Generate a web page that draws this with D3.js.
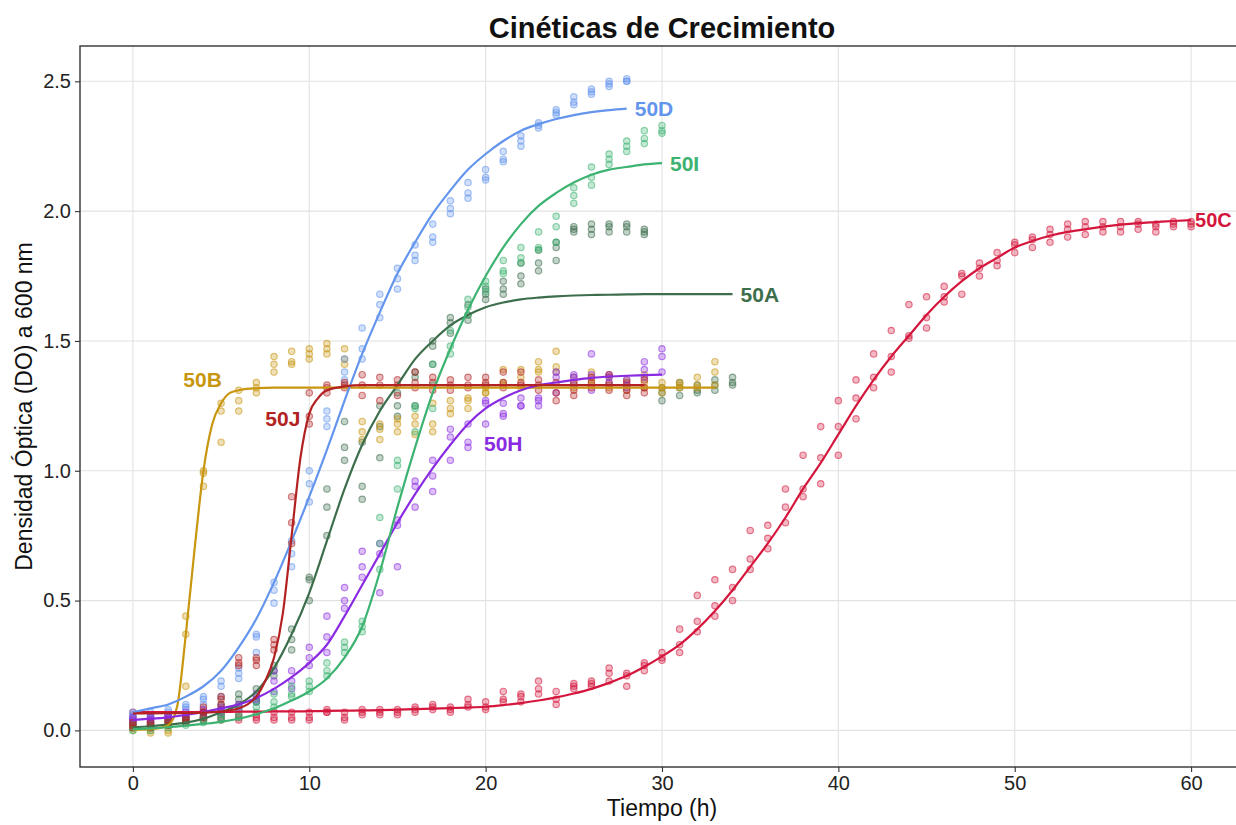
<!DOCTYPE html>
<html>
<head>
<meta charset="utf-8">
<script src="https://d3js.org/d3.v7.min.js"></script>
<style>
  body { margin: 0; background: #fff; }
  svg { display: block; font-family: "Liberation Sans", Arial, sans-serif; }
</style>
</head>
<body>
<svg id="chart" width="1236" height="825"></svg>
<script>
// strains in drawing order, with their colours
var strains = ["50A", "50B", "50C", "50D", "50H", "50I", "50J"];
var colors = ["#3d6e4c", "#c8960f", "#d4163d", "#6495ed", "#8a2be2", "#3cb371", "#b22222"];

var xTicks = [0, 10, 20, 30, 40, 50, 60];
var yTicks = [0, 0.5, 1, 1.5, 2, 2.5];

// measured OD600: [hour, rep1, rep2, rep3]
var obs50A = [
  [0,0.03,0.02,0.01],[1,0.03,0.02,0.02],[2,0.04,0.03,0.02],[3,0.05,0.04,0.03],
  [4,0.07,0.05,0.04],[5,0.10,0.08,0.06],[6,0.14,0.12,0.10],[7,0.16,0.13,0.11],
  [8,0.25,0.23,0.21],[9,0.39,0.35,0.31],[10,0.59,0.58,0.50],[11,0.93,0.86,0.75],
  [12,1.19,1.09,1.04],[13,1.11,0.94,0.89],[14,1.25,1.17,1.05],[15,1.30,1.25,1.21],
  [16,1.38,1.36,1.25],[17,1.50,1.48,1.41],[18,1.59,1.57,1.53],[19,1.64,1.60,1.58],
  [20,1.70,1.68,1.66],[21,1.73,1.70,1.68],[22,1.80,1.75,1.72],[23,1.85,1.80,1.77],
  [24,1.88,1.86,1.81],[25,1.94,1.93,1.92],[26,1.95,1.93,1.91],[27,1.95,1.94,1.92],
  [28,1.95,1.94,1.92],[29,1.93,1.92,1.91],[30,1.32,1.30,1.27],[31,1.34,1.32,1.29],
  [32,1.33,1.31,1.30],[33,1.35,1.33,1.31],[34,1.36,1.34,1.33]
];
var obs50B = [
  [0,0.02,0.01,0.00],[1,0.03,0.00,-0.01],[2,0.03,0.00,-0.01],[3,0.44,0.37,0.17],
  [4,1.00,0.99,0.94],[5,1.26,1.23,1.11],[6,1.31,1.27,1.23],[7,1.34,1.32,1.30],
  [8,1.44,1.41,1.38],[9,1.46,1.42,1.41],[10,1.47,1.45,1.43],[11,1.49,1.47,1.45],
  [12,1.47,1.43,1.41],[13,1.19,1.15,1.12],[14,1.18,1.16,1.12],[15,1.20,1.18,1.15],
  [16,1.21,1.18,1.14],[17,1.26,1.18,1.15],[18,1.27,1.24,1.22],[19,1.28,1.27,1.24],
  [20,1.32,1.30,1.30],[21,1.39,1.34,1.33],[22,1.39,1.36,1.32],[23,1.42,1.39,1.38],
  [24,1.46,1.40,1.38],[25,1.36,1.34,1.32],[26,1.38,1.35,1.33],[27,1.36,1.34,1.32],
  [28,1.35,1.33,1.31],[29,1.37,1.34,1.32],[30,1.34,1.32,1.30],[31,1.34,1.33,1.32],
  [32,1.36,1.33,1.32],[33,1.42,1.38,1.33]
];
var obs50C = [
  [0,0.07,0.05,0.04],[1,0.06,0.05,0.04],[2,0.06,0.05,0.05],[3,0.06,0.04,0.05],
  [4,0.07,0.05,0.04],[5,0.07,0.04,0.05],[6,0.06,0.04,0.05],[7,0.06,0.04,0.05],
  [8,0.07,0.04,0.05],[9,0.07,0.04,0.05],[10,0.07,0.05,0.04],[11,0.08,0.07,0.07],
  [12,0.07,0.05,0.04],[13,0.08,0.06,0.07],[14,0.08,0.07,0.06],[15,0.07,0.06,0.08],
  [16,0.09,0.07,0.08],[17,0.10,0.08,0.09],[18,0.09,0.08,0.07],[19,0.12,0.10,0.09],
  [20,0.11,0.09,0.08],[21,0.15,0.12,0.11],[22,0.14,0.13,0.11],[23,0.19,0.16,0.14],
  [24,0.15,0.12,0.10],[25,0.18,0.17,0.16],[26,0.19,0.18,0.17],[27,0.24,0.22,0.19],
  [28,0.22,0.21,0.17],[29,0.26,0.25,0.23],[30,0.30,0.28,0.27],[31,0.39,0.33,0.30],
  [32,0.52,0.42,0.38],[33,0.58,0.48,0.44],[34,0.62,0.55,0.50],[35,0.77,0.66,0.62],
  [36,0.79,0.74,0.70],[37,0.93,0.86,0.80],[38,1.06,0.93,0.90],[39,1.17,1.05,0.95],
  [40,1.27,1.17,1.06],[41,1.35,1.28,1.20],[42,1.45,1.36,1.32],[43,1.54,1.44,1.38],
  [44,1.64,1.52,1.51],[45,1.67,1.59,1.55],[46,1.71,1.67,1.65],[47,1.76,1.75,1.68],
  [48,1.80,1.78,1.75],[49,1.84,1.81,1.79],[50,1.88,1.87,1.84],[51,1.90,1.89,1.86],
  [52,1.93,1.91,1.88],[53,1.95,1.93,1.90],[54,1.96,1.94,1.91],[55,1.96,1.94,1.92],
  [56,1.96,1.94,1.92],[57,1.96,1.95,1.93],[58,1.95,1.94,1.92],[59,1.96,1.95,1.94],
  [60,1.96,1.95,1.94]
];
var obs50D = [
  [0,0.07,0.06,0.05],[1,0.07,0.06,0.05],[2,0.08,0.07,0.06],[3,0.10,0.09,0.08],
  [4,0.13,0.12,0.10],[5,0.19,0.17,0.13],[6,0.24,0.22,0.20],[7,0.37,0.36,0.30],
  [8,0.57,0.54,0.49],[9,0.73,0.68,0.63],[10,1.00,0.95,0.88],[11,1.23,1.20,1.17],
  [12,1.43,1.38,1.35],[13,1.55,1.47,1.43],[14,1.68,1.64,1.59],[15,1.78,1.74,1.70],
  [16,1.87,1.83,1.81],[17,1.95,1.90,1.88],[18,2.04,2.01,1.99],[19,2.11,2.07,2.05],
  [20,2.16,2.13,2.12],[21,2.23,2.20,2.19],[22,2.29,2.27,2.25],[23,2.34,2.33,2.32],
  [24,2.39,2.38,2.37],[25,2.44,2.42,2.41],[26,2.47,2.46,2.45],[27,2.50,2.49,2.48],
  [28,2.51,2.50,2.50]
];
var obs50H = [
  [0,0.05,0.04,0.03],[1,0.05,0.04,0.03],[2,0.06,0.05,0.04],[3,0.07,0.06,0.05],
  [4,0.08,0.07,0.06],[5,0.09,0.08,0.07],[6,0.10,0.09,0.08],[7,0.14,0.12,0.11],
  [8,0.23,0.19,0.15],[9,0.23,0.19,0.16],[10,0.32,0.28,0.25],[11,0.44,0.36,0.30],
  [12,0.55,0.50,0.47],[13,0.69,0.63,0.59],[14,0.72,0.68,0.53],[15,0.81,0.79,0.63],
  [16,0.96,0.94,0.86],[17,1.04,0.98,0.92],[18,1.16,1.13,1.04],[19,1.18,1.11,1.09],
  [20,1.27,1.26,1.18],[21,1.26,1.22,1.21],[22,1.28,1.25,1.25],[23,1.28,1.27,1.25],
  [24,1.38,1.36,1.30],[25,1.37,1.36,1.33],[26,1.45,1.37,1.31],[27,1.37,1.36,1.34],
  [28,1.35,1.33,1.32],[29,1.42,1.39,1.36],[30,1.47,1.44,1.38]
];
var obs50I = [
  [0,0.02,0.01,0.00],[1,0.02,0.01,0.00],[2,0.03,0.02,0.01],[3,0.04,0.03,0.02],
  [4,0.05,0.04,0.03],[5,0.06,0.05,0.04],[6,0.08,0.06,0.05],[7,0.11,0.09,0.07],
  [8,0.14,0.11,0.09],[9,0.17,0.14,0.13],[10,0.19,0.17,0.15],[11,0.26,0.23,0.21],
  [12,0.34,0.32,0.30],[13,0.42,0.40,0.38],[14,0.82,0.72,0.62],[15,1.04,1.02,0.93],
  [16,1.25,1.24,1.15],[17,1.41,1.33,1.24],[18,1.54,1.48,1.45],[19,1.66,1.63,1.60],
  [20,1.73,1.71,1.69],[21,1.81,1.77,1.76],[22,1.86,1.82,1.80],[23,1.92,1.86,1.85],
  [24,1.98,1.94,1.88],[25,2.09,2.06,2.03],[26,2.17,2.13,2.10],[27,2.22,2.20,2.18],
  [28,2.27,2.25,2.23],[29,2.31,2.28,2.26],[30,2.33,2.31,2.30]
];
var obs50J = [
  [0,0.03,0.02,0.01],[1,0.03,0.02,0.01],[2,0.04,0.03,0.02],[3,0.05,0.04,0.03],
  [4,0.09,0.07,0.05],[5,0.13,0.12,0.10],[6,0.28,0.26,0.25],[7,0.28,0.27,0.25],
  [8,0.35,0.33,0.31],[9,0.90,0.80,0.72],[10,1.30,1.21,1.18],[11,1.33,1.32,1.30],
  [12,1.34,1.33,1.32],[13,1.37,1.33,1.29],[14,1.36,1.33,1.27],[15,1.35,1.33,1.29],
  [16,1.38,1.34,1.32],[17,1.36,1.34,1.31],[18,1.35,1.33,1.31],[19,1.36,1.33,1.32],
  [20,1.36,1.34,1.33],[21,1.38,1.34,1.32],[22,1.38,1.34,1.33],[23,1.35,1.33,1.31],
  [24,1.34,1.30,1.27],[25,1.34,1.31,1.29],[26,1.36,1.34,1.32],[27,1.37,1.33,1.31],
  [28,1.34,1.31,1.29],[29,1.35,1.32,1.30]
];

// fitted growth curves: [hour, OD600]
var fit50A = [
  [0,0.012],[1,0.016],[2,0.022],[3,0.03],[4,0.045],[5,0.07],[6,0.10],[7,0.15],[8,0.24],
  [9,0.37],[10,0.53],[11,0.73],[12,0.93],[13,1.10],[14,1.23],[15,1.33],[16,1.43],[17,1.50],
  [18,1.56],[19,1.60],[20,1.63],[21,1.648],[22,1.66],[23,1.667],[24,1.672],[25,1.675],
  [26,1.677],[27,1.678],[28,1.679],[29,1.68],[30,1.68],[31,1.68],[32,1.68],[33,1.68],[34,1.68]
];
var fit50B = [
  [0,0.003],[1,0.005],[2,0.02],[2.5,0.09],[3,0.37],[3.5,0.70],[4,1.00],[4.5,1.18],[5,1.26],
  [5.5,1.30],[6,1.31],[7,1.318],[8,1.32],[10,1.32],[15,1.32],[20,1.32],[25,1.32],[30,1.32],[33,1.32]
];
var fit50C = [
  [0,0.070],[1,0.070],[2,0.070],[3,0.070],[4,0.071],[5,0.071],[6,0.072],[7,0.072],[8,0.073],
  [9,0.073],[10,0.074],[11,0.075],[12,0.076],[13,0.077],[14,0.078],[15,0.080],[16,0.082],
  [17,0.084],[18,0.086],[19,0.088],[20,0.091],[21,0.097],[22,0.105],[23,0.115],[24,0.127],
  [25,0.142],[26,0.16],[27,0.183],[28,0.21],[29,0.245],[30,0.285],[31,0.33],[32,0.39],
  [33,0.46],[34,0.54],[35,0.63],[36,0.72],[37,0.82],[38,0.93],[39,1.03],[40,1.14],[41,1.25],
  [42,1.35],[43,1.44],[44,1.52],[45,1.60],[46,1.67],[47,1.73],[48,1.78],[49,1.82],[50,1.86],
  [51,1.885],[52,1.905],[53,1.92],[54,1.93],[55,1.94],[56,1.948],[57,1.954],[58,1.958],
  [59,1.962],[60,1.965]
];
var fit50D = [
  [0,0.07],[1,0.085],[2,0.10],[3,0.13],[4,0.17],[5,0.23],[6,0.32],[7,0.43],[8,0.57],[9,0.73],
  [10,0.90],[11,1.08],[12,1.27],[13,1.45],[14,1.61],[15,1.76],[16,1.88],[17,1.99],[18,2.08],
  [19,2.16],[20,2.22],[21,2.27],[22,2.31],[23,2.335],[24,2.355],[25,2.37],[26,2.381],
  [27,2.389],[28,2.395]
];
var fit50H = [
  [0,0.04],[1,0.045],[2,0.05],[3,0.06],[4,0.07],[5,0.085],[6,0.10],[7,0.125],[8,0.16],
  [9,0.205],[10,0.26],[11,0.33],[12,0.44],[13,0.56],[14,0.68],[15,0.80],[16,0.91],[17,1.01],
  [18,1.10],[19,1.18],[20,1.24],[21,1.28],[22,1.31],[23,1.33],[24,1.34],[25,1.35],[26,1.358],
  [27,1.363],[28,1.366],[29,1.368],[30,1.37]
];
var fit50I = [
  [0,0.005],[1,0.008],[2,0.012],[3,0.018],[4,0.025],[5,0.033],[6,0.045],[7,0.062],[8,0.085],
  [9,0.115],[10,0.15],[11,0.20],[12,0.28],[13,0.40],[14,0.61],[15,0.86],[16,1.09],[17,1.30],
  [18,1.47],[19,1.62],[20,1.75],[21,1.86],[22,1.95],[23,2.02],[24,2.07],[25,2.11],[26,2.14],
  [27,2.16],[28,2.17],[29,2.18],[30,2.185]
];
var fit50J = [
  [0,0.065],[2,0.066],[4,0.068],[5,0.072],[6,0.085],[6.5,0.10],[7,0.13],[7.5,0.19],[8,0.28],
  [8.5,0.45],[9,0.75],[9.5,1.05],[10,1.22],[10.5,1.28],[11,1.31],[12,1.325],[13,1.33],
  [15,1.33],[20,1.33],[25,1.33],[29,1.33]
];

var observed = [obs50A, obs50B, obs50C, obs50D, obs50H, obs50I, obs50J];
var fitted = [fit50A, fit50B, fit50C, fit50D, fit50H, fit50I, fit50J];

// label spots (hour, OD) for labels pushed off the curve end
var labelSpot = { "50B": [3.95, 1.35], "50J": [8.5, 1.20], "50H": [21.0, 1.105] };

function draw() {
  var svg = d3.select("#chart");
  var left = 80, right = 1244, top = 46, bottom = 767;

  var x = d3.scaleLinear().domain([-3, 63]).range([left, right]);
  var y = d3.scaleLinear().domain([-0.141, 2.636]).range([bottom, top]);

  // grid
  var grid = svg.append("g").attr("stroke", "#e2e2e2").attr("stroke-width", 1.1);
  grid.selectAll(".gx").data(xTicks).join("line")
    .attr("x1", d => x(d)).attr("x2", d => x(d)).attr("y1", top).attr("y2", bottom);
  grid.selectAll(".gy").data(yTicks).join("line")
    .attr("x1", left).attr("x2", right).attr("y1", d => y(d)).attr("y2", d => y(d));

  // axes
  var xAxis = svg.append("g").attr("transform", "translate(0," + bottom + ")")
    .call(d3.axisBottom(x).tickValues(xTicks).tickSize(5).tickPadding(4));
  var yAxis = svg.append("g").attr("transform", "translate(" + left + ",0)")
    .call(d3.axisLeft(y).tickValues(yTicks).tickFormat(d3.format(".1f")).tickSize(5).tickPadding(4));
  [xAxis, yAxis].forEach(function (a) {
    a.select(".domain").remove();
    a.selectAll(".tick line").attr("stroke", "#333").attr("stroke-width", 1.1);
    a.selectAll(".tick text").attr("fill", "#222").style("font-size", "20px")
      .style("font-family", "'Liberation Sans', Arial, sans-serif");
  });

  // panel border
  svg.append("rect").attr("x", left).attr("y", top)
    .attr("width", right - left).attr("height", bottom - top)
    .attr("fill", "none").attr("stroke", "#333").attr("stroke-width", 1.4);

  // replicate points
  strains.forEach(function (s, i) {
    var pts = [];
    observed[i].forEach(function (r) {
      for (var k = 1; k < r.length; k++) pts.push([r[0], r[k]]);
    });
    svg.append("g").selectAll("circle").data(pts).join("circle")
      .attr("cx", d => x(d[0])).attr("cy", d => y(d[1])).attr("r", 3.2)
      .attr("fill", colors[i]).attr("fill-opacity", 0.3)
      .attr("stroke", colors[i]).attr("stroke-opacity", 0.55).attr("stroke-width", 1.2);
  });

  // fitted curves
  var line = d3.line().x(d => x(d[0])).y(d => y(d[1])).curve(d3.curveMonotoneX);
  strains.forEach(function (s, i) {
    svg.append("path").datum(fitted[i]).attr("d", line)
      .attr("fill", "none").attr("stroke", colors[i]).attr("stroke-width", 2.2);
  });

  // strain labels
  strains.forEach(function (s, i) {
    var t = svg.append("text").text(s).attr("fill", colors[i])
      .style("font-size", "21px").style("font-weight", "bold").attr("dy", "0.36em");
    if (labelSpot[s]) {
      t.attr("x", x(labelSpot[s][0])).attr("y", y(labelSpot[s][1])).attr("text-anchor", "middle");
    } else {
      var end = fitted[i][fitted[i].length - 1];
      t.attr("x", x(end[0]) + 8).attr("y", y(end[1])).attr("text-anchor", "start");
    }
    // keep the right-most label inside the picture
    var box = t.node().getBBox();
    if (box.x + box.width > 1234) {
      t.style("font-size", "20px");
      t.attr("x", +t.attr("x") - 4);
    }
  });

  // titles
  svg.append("text").attr("x", (left + right) / 2).attr("y", 38).attr("text-anchor", "middle")
    .style("font-size", "29px").style("font-weight", "bold").attr("fill", "#111")
    .text("Cinéticas de Crecimiento");
  svg.append("text").attr("x", (left + right) / 2).attr("y", 816).attr("text-anchor", "middle")
    .style("font-size", "23px").attr("fill", "#111").text("Tiempo (h)");
  svg.append("text").attr("transform", "translate(32," + (top + bottom) / 2 + ") rotate(-90)")
    .attr("text-anchor", "middle").style("font-size", "23px").attr("fill", "#111")
    .text("Densidad Óptica (DO) a 600 nm");
}

draw();
</script>
</body>
</html>
